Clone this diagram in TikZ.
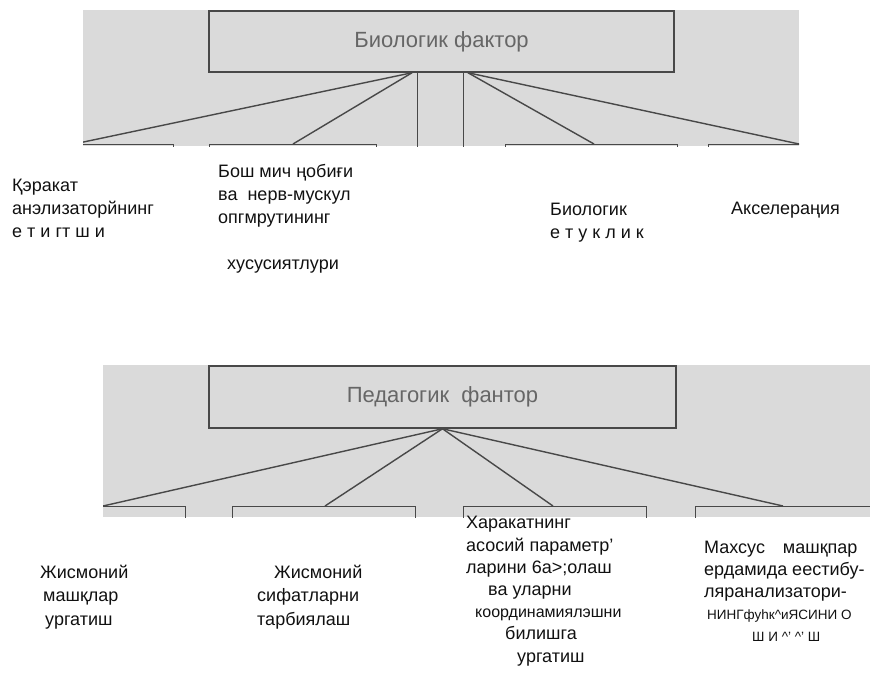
\documentclass[tikz,border=0pt]{standalone}
\usepackage{fontspec}
\setmainfont{Liberation Sans}
\usepackage{xcolor}
\usetikzlibrary{positioning}
\definecolor{scan}{HTML}{DADADA}
\definecolor{inkgray}{HTML}{484848}
\definecolor{printgray}{HTML}{666666}
\definecolor{textink}{HTML}{111111}
\tikzset{
  scanbg/.style={fill=scan,draw=none},
  factor/.style={draw=inkgray,line width=1.5pt,fill=scan,minimum width=465pt,minimum height=61pt,inner sep=0pt,text=printgray,font=\fontsize{22}{26}\selectfont},
  sub/.style={draw=inkgray,line width=1.4pt,anchor=north west,minimum height=40pt,inner sep=0pt},
  link/.style={draw=inkgray,line width=1.4pt},
  lbl/.style={anchor=base west,align=left,inner sep=0pt,text=textink,font=\fontsize{18}{23}\selectfont}
}

\begin{document}
\begin{tikzpicture}[x=1pt,y=-1pt]
  \useasboundingbox (0,0) rectangle (870,675);

  % biological factor (scanned strip)
  \fill[scanbg] (83,10) rectangle (799,146);
  \begin{scope}
    \clip (83,10) rectangle (799,146);
    \node[factor] (bio) at (441.5,41.5) {Биологик фактор};
    \node[sub,minimum width=99pt] (bio1) at (74,144) {};
    \node[sub,minimum width=167pt] (bio2) at (209,144) {};
    \node[sub,minimum width=46pt,minimum height=90pt] (bio3) at (417,72) {};
    \node[sub,minimum width=172pt] (bio4) at (505,144) {};
    \node[sub,minimum width=120pt] (bio5) at (708,144) {};
    \coordinate (bioL) at ([xshift=-29.5pt]bio.south);
    \coordinate (bioR) at ([xshift=26.5pt]bio.south);
    \draw[link] (bioL) -- (bio1.north west);
    \draw[link] (bioL) -- ([xshift=84pt]bio2.north west);
    \draw[link] (bioR) -- ([xshift=89pt]bio4.north west);
    \draw[link] (bioR) -- ([xshift=91pt]bio5.north west);
  \end{scope}

  % labels sit on the baseline of their last line
  \node[lbl] (motion) at (12,237) {Қэракат\\анэлизаторйнинг\\е т и гт ш и};
  \node[lbl] (nerve) at (218,269) {Бош мич ңобиғи\\ва\ \ нерв-мускул\\опгмрутининг\\[23pt]\hspace*{9pt}хусусиятлури};
  \node[lbl] (mature) at (550,238) {Биологик\\е т у к л и к};
  \node[lbl] (accel) at (731,214) {Акселераңия};

  % pedagogical factor (scanned strip)
  \fill[scanbg] (103,365) rectangle (870,517);
  \begin{scope}
    \clip (103,365) rectangle (870,517);
    \node[factor,minimum width=467pt,minimum height=62pt] (ped) at (442.5,397) {Педагогик\ \ фантор};
    \node[sub,minimum width=90pt] (ped1) at (95,506) {};
    \node[sub,minimum width=183pt] (ped2) at (232,506) {};
    \node[sub,minimum width=183pt] (ped3) at (463,506) {};
    \node[sub,minimum width=190pt] (ped4) at (695,506) {};
    \coordinate (pedJ) at (ped.south);
    \draw[link] (pedJ) -- ([xshift=8pt]ped1.north west);
    \draw[link] (pedJ) -- ([xshift=93pt]ped2.north west);
    \draw[link] (pedJ) -- ([xshift=90pt]ped3.north west);
    \draw[link] (pedJ) -- ([xshift=88pt]ped4.north west);
  \end{scope}

  \node[lbl,font=\fontsize{18}{23.5}\selectfont] (drill) at (40,625) {Жисмоний\\\hspace*{3pt}машқлар\\\hspace*{5pt}ургатиш};
  \node[lbl,font=\fontsize{18}{23.5}\selectfont] (quality) at (257,625) {\hspace*{17pt}Жисмоний\\сифатларни\\тарбиялаш};
  \node[lbl,font=\fontsize{18}{22.2}\selectfont] (coord) at (466,662) {Харакатнинг\\асосий параметр'\\ларини 6а>;олаш\\\hspace*{22pt}ва уларни\\\hspace*{9pt}{\fontsize{16}{22.2}\selectfont координамиялэшни}\\\hspace*{39pt}билишга\\\hspace*{51pt}ургатиш};
  \node[lbl,font=\fontsize{18}{22}\selectfont] (vest) at (704,641) {Махсус\hspace{18pt}машқпар\\ердамида еестибу-\\ляранализатори-\\{\fontsize{13.5}{22}\selectfont\hspace*{3pt}НИНГфуhк\textasciicircum иЯСИНИ О}\\{\fontsize{13.5}{22}\selectfont\hspace*{48pt}Ш И \textasciicircum' \textasciicircum' Ш}};
\end{tikzpicture}
\end{document}
